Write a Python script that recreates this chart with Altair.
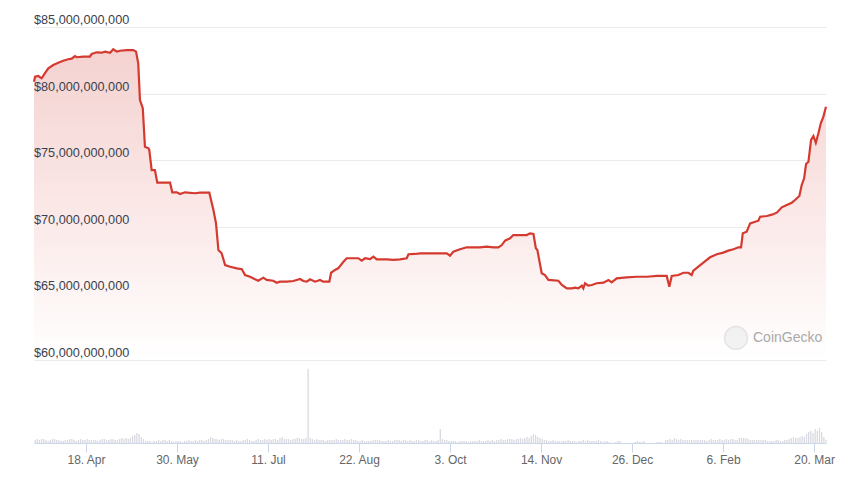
import altair as alt
import pandas as pd

START = pd.Timestamp("2024-03-25")

# market cap trace: day offset from START, value in $ billions
price_day = [0, 0.5, 2, 3.5, 5, 6.6, 8.9, 11.2, 13.5, 15.8, 17.4, 18.9, 19.7, 22.8, 25.8, 26.6,
             28.9, 31.2, 32.8, 35.1, 36.6, 38.2, 39.7, 42.8, 45.8, 47.1, 48.1, 48.9, 50.2, 51.2,
             52.8, 53.2, 54.3, 55.8, 56.9, 62.8, 63.8, 65.9, 67.4, 69.7, 74.3, 76.6, 80.9, 82.8,
             84.0, 85.1, 86.6, 88.2, 90.5, 93.6, 95.9, 97.4, 99.7, 102.0, 103.5, 105.8, 107.4,
             110.4, 112.0, 113.5, 116.6, 119.7, 122.8, 124.3, 125.9, 127.4, 129.7, 132.0, 133.5,
             136.3, 137.1, 138.9, 140.4, 142.8, 144.3, 149.7, 151.2, 152.8, 155.1, 156.6, 158.2,
             162.8, 165.8, 168.9, 172.0, 172.8, 175.8, 178.2, 181.2, 184.3, 187.4, 190.5, 192.0,
             193.5, 196.6, 199.7, 202.8, 205.8, 208.9, 212.0, 214.3, 215.9, 217.4, 219.7, 221.2,
             227.4, 228.9, 230.5, 231.6, 232.3, 234.3, 235.8, 237.4, 242.0, 243.6, 245.9, 248.2,
             249.7, 251.2, 252.8, 253.5, 254.3, 255.8, 257.4, 259.7, 262.8, 265.1, 266.6, 268.9,
             273.5, 278.2, 282.8, 287.4, 292.0, 293.2, 294.3, 297.4, 299.7, 302.0, 303.5, 304.3,
             306.6, 308.9, 312.0, 315.1, 318.1, 320.4, 322.8, 325.1, 326.3, 327.1, 328.9, 330.5,
             332.8, 334.3, 335.1, 338.2, 340.5, 342.8, 345.1, 347.4, 349.7, 351.2, 353.2, 354.3,
             355.4, 356.3, 357.4, 358.6, 359.7, 360.8, 362.0, 363.1, 364.3, 365.5]
price_bn = [80.89, 81.27, 81.32, 81.15, 81.52, 81.90, 82.15, 82.32, 82.47, 82.58, 82.62, 82.82, 82.73,
            82.77, 82.77, 82.97, 83.10, 83.07, 83.15, 83.07, 83.33, 83.15, 83.22, 83.27, 83.27, 83.15,
            82.27, 79.52, 78.90, 76.01, 75.89, 75.77, 74.26, 74.26, 73.31, 73.31, 72.59, 72.59, 72.46,
            72.59, 72.52, 72.56, 72.56, 71.26, 70.26, 68.26, 68.01, 67.13, 67.00, 66.88, 66.81, 66.38,
            66.25, 66.06, 65.95, 66.18, 66.01, 65.95, 65.80, 65.88, 65.88, 65.93, 66.08, 65.93, 65.88,
            66.06, 65.88, 66.01, 65.88, 65.88, 66.55, 66.76, 66.88, 67.38, 67.64, 67.64, 67.46, 67.64,
            67.58, 67.76, 67.56, 67.56, 67.51, 67.56, 67.64, 67.94, 67.96, 68.01, 68.01, 68.01, 68.01,
            68.01, 67.83, 68.13, 68.31, 68.46, 68.46, 68.46, 68.51, 68.46, 68.46, 68.63, 68.96, 69.14,
            69.38, 69.38, 69.51, 69.46, 68.39, 68.26, 66.51, 66.38, 66.01, 65.95, 65.63, 65.38, 65.38,
            65.43, 65.38, 65.58, 65.38, 65.76, 65.58, 65.63, 65.76, 65.81, 66.01, 65.83, 66.13, 66.21,
            66.25, 66.25, 66.31, 66.31, 65.50, 66.31, 66.38, 66.55, 66.55, 66.38, 66.71, 67.01, 67.31,
            67.71, 67.94, 68.06, 68.21, 68.31, 68.46, 68.46, 69.51, 69.63, 70.26, 70.38, 70.46, 70.76,
            70.81, 70.91, 71.06, 71.46, 71.64, 71.81, 72.01, 72.31, 73.14, 73.64, 74.71, 74.89, 76.52,
            76.82, 76.31, 77.02, 77.77, 78.27, 79.02]

# daily volume, relative units
volume_rel = [3, 4, 3, 4, 4, 3, 2, 3, 4, 4, 3, 3, 2, 2, 3, 3, 4, 4, 3, 2, 3, 4, 3, 3, 4, 3,
              3, 3, 3, 2, 3, 4, 4, 3, 3, 4, 4, 3, 3, 4, 5, 4, 5, 4, 5, 7, 8, 10, 9, 6, 4,
              2, 2, 2, 1, 2, 2, 3, 2, 3, 3, 2, 3, 2, 1, 2, 2, 2, 1, 2, 2, 3, 2, 2, 3, 2, 3, 3, 2, 3, 4,
              6, 5, 4, 4, 3, 4, 4, 3, 3, 3, 3, 2, 3, 2, 2, 3, 3, 4, 3, 2, 2, 3, 4, 3, 3, 4, 3, 4, 3, 4,
              4, 3, 5, 6, 4, 4, 4, 3, 4, 4, 5, 5, 4, 4, 5,
              74,
              5, 4, 3, 4, 3, 3, 3, 2, 3, 3, 3, 3, 4, 3, 3, 3, 4, 3, 3, 4, 3, 3, 2, 2,
              3, 2, 2, 2, 2, 3, 3, 3, 3, 2, 2, 2, 3, 2, 2, 3, 3, 3, 2, 3, 3, 2, 3, 2, 2, 3, 3, 2, 2, 3,
              3, 2, 3, 2, 2,
              3, 14, 4, 3, 3,
              2, 2, 2, 2, 1, 2, 2, 2, 2, 1, 2, 2, 2, 2, 3, 2, 2, 2, 3, 2, 3, 2, 3, 3, 4, 3, 3, 4, 4, 4,
              3, 4, 4, 5, 4,
              5, 6, 5, 7, 9, 8, 6, 5, 4, 3, 3, 2, 2, 3, 2,
              2, 2, 2, 2, 2, 3, 2, 2, 2, 1, 2, 2, 3, 2, 3, 2, 2, 2, 2, 3, 2, 1, 2, 2, 1, 0, 0, 1, 2, 2,
              0, 0, 0, 0, 0, 0, 1, 2, 1, 1, 2, 0, 0, 0, 0, 0, 1, 1, 1, 0,
              3, 3, 4, 3, 5, 4, 3, 4, 3, 3, 3, 3, 3, 3, 3, 3, 3, 3, 3, 2, 3, 4, 3, 3, 3, 4, 3, 3, 4, 3,
              4, 4, 3, 3, 5, 5, 5, 5, 4, 3, 3, 3, 3, 3, 3, 3, 3, 2, 2, 2, 2, 3, 3, 2, 2,
              3, 3, 4, 5, 6, 5, 5, 6, 7, 6, 9, 11, 12, 10, 14, 12, 15, 11, 6, 3]

tick_dates = [(2024, 4, 18), (2024, 5, 30), (2024, 7, 11), (2024, 8, 22), (2024, 10, 3),
              (2024, 11, 14), (2024, 12, 26), (2025, 2, 6), (2025, 3, 20)]
y_ticks = [60, 65, 70, 75, 80, 85]
y_labels = ["$60,000,000,000", "$65,000,000,000", "$70,000,000,000",
            "$75,000,000,000", "$80,000,000,000", "$85,000,000,000"]

price_df = pd.DataFrame({"date": START + pd.to_timedelta(price_day, unit="D"), "mcap": price_bn})
vol_df = pd.DataFrame({"date": START + pd.to_timedelta([i + 0.5 for i in range(len(volume_rel))], unit="D"),
                       "vol": volume_rel})
vol_df = vol_df[vol_df["vol"] > 0]
lab_df = pd.DataFrame({"v": y_ticks, "label": y_labels})
wm_df = pd.DataFrame({"t": ["CoinGecko"]})

x_scale = alt.Scale(domain=[alt.DateTime(year=2024, month=3, date=25),
                            alt.DateTime(year=2025, month=3, date=25, hours=12)],
                    padding=0, nice=False)
x_axis = alt.Axis(values=[alt.DateTime(year=y, month=m, date=d) for y, m, d in tick_dates],
                  format="%-d. %b", title=None, grid=False, domainColor="#ccd6eb",
                  tickColor="#ccd6eb", tickSize=9, labelColor="#666666", labelFontSize=12,
                  labelPadding=2, labelFont="Liberation Sans", labelFlush=False)
x_enc = alt.X("date:T", scale=x_scale, axis=x_axis)

p_scale = alt.Scale(domain=[53.769, 85], nice=False, zero=False)
p_axis = alt.Axis(values=y_ticks, labels=False, ticks=False, domain=False, grid=True,
                  gridColor="#ebebeb", title=None)

area = alt.Chart(price_df).mark_area(
    color=alt.Gradient(gradient="linear",
                       stops=[alt.GradientStop(color="#f4d2d0", offset=0),
                              alt.GradientStop(color="#fbeceb", offset=0.6),
                              alt.GradientStop(color="#ffffff", offset=1)],
                       x1=0, x2=0, y1=0, y2=1)
).encode(x=x_enc, y=alt.Y("mcap:Q", scale=p_scale, axis=p_axis), y2=alt.datum(60))

line = alt.Chart(price_df).mark_line(color="#d43a2f", strokeWidth=2.2).encode(
    x=x_enc, y=alt.Y("mcap:Q", scale=p_scale, axis=p_axis))

labels = alt.Chart(lab_df).mark_text(
    align="left", baseline="alphabetic", dy=-3, fontSize=12.7, color="#3b3f4c", font="Liberation Sans"
).encode(x=alt.value(0), y=alt.Y("v:Q", scale=p_scale, axis=p_axis), text="label:N")

wm_circle = alt.Chart(wm_df).mark_point(
    shape="circle", size=520, filled=True, color="#eeeeee", stroke="#dadada", strokeWidth=1.5
).encode(x=alt.value(702), y=alt.value(311))
wm_text = alt.Chart(wm_df).mark_text(
    align="left", baseline="middle", fontSize=14, color="#a9a9a9", font="Liberation Sans"
).encode(x=alt.value(719), y=alt.value(311), text="t:N")

price_layer = alt.layer(area, line, labels, wm_circle, wm_text)

vol = alt.Chart(vol_df).mark_bar(width=1.3, color="#d9dae1").encode(
    x=x_enc, y=alt.Y("vol:Q", scale=alt.Scale(domain=[0, 416], nice=False), axis=None))

chart = alt.layer(price_layer, vol).resolve_scale(y="independent").properties(
    width=792, height=416,
    autosize=alt.AutoSizeParams(type="none"),
    padding={"left": 26, "top": 19, "right": 10, "bottom": 28},
).configure_view(stroke=None)

chart.save("out.html", embed_options={"renderer": "svg", "actions": False})
